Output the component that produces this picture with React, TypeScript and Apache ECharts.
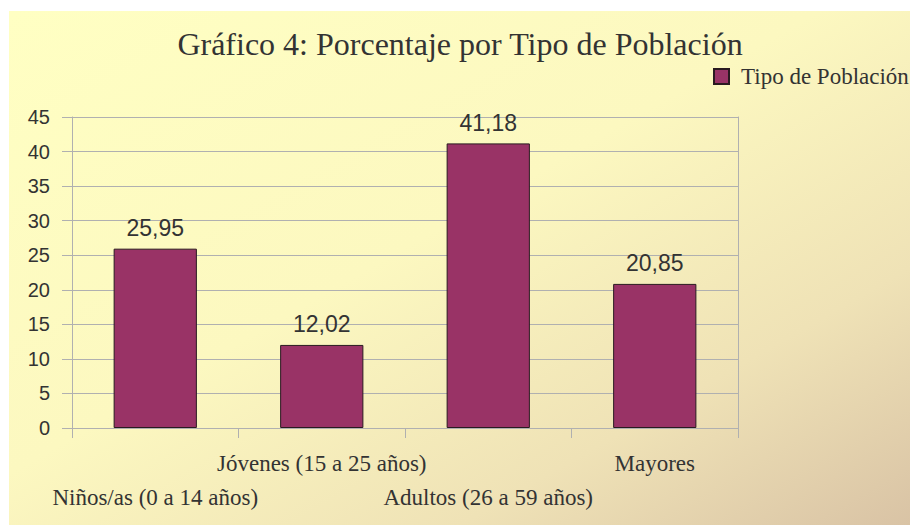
import React, { useEffect, useRef } from "react";
import * as echarts from "echarts";

const categories = [
  "Niños/as (0 a 14 años)",
  "Jóvenes (15 a 25 años)",
  "Adultos (26 a 59 años)",
  "Mayores",
];
const values = [25.95, 12.02, 41.18, 20.85];
const seriesName = "Tipo de Población";
const titleText = "Gráfico 4: Porcentaje por Tipo de Población";

export default function App() {
  const ref = useRef<HTMLDivElement>(null);
  useEffect(() => {
    document.body.style.margin = "0";
    const chart = echarts.init(ref.current!, null, { renderer: "svg" });
    const grey = "#b0b0b0";
    chart.setOption({
      animation: false,
      backgroundColor: "#ffffff",
      graphic: [
        {
          type: "rect",
          z: -10,
          silent: true,
          shape: { x: 9, y: 11, width: 901, height: 514 },
          style: {
            fill: {
              type: "linear",
              x: 0,
              y: 0,
              x2: 1,
              y2: 1,
              colorStops: [
                { offset: 0, color: "#ffffc3" },
                { offset: 0.45, color: "#fcf8c0" },
                { offset: 0.75, color: "#efe2b6" },
                { offset: 1, color: "#d9c3a5" },
              ],
            },
          },
        },
        {
          type: "text",
          x: 460,
          y: 44,
          silent: true,
          style: {
            text: titleText,
            textAlign: "center",
            textVerticalAlign: "middle",
            font: "normal 32px 'Liberation Serif'",
            fill: "#333333",
          },
        },
      ],
      legend: {
        left: 708,
        top: 60,
        itemWidth: 15,
        itemHeight: 15,
        icon: "rect",
        data: [seriesName],
        textStyle: {
          fontFamily: "Liberation Serif",
          fontSize: 23,
          color: "#333333",
          padding: [0, 0, 0, 7],
        },
      },
      grid: { left: 72, right: 172, top: 117, bottom: 99 },
      xAxis: {
        type: "category",
        data: categories,
        axisLine: { show: true, lineStyle: { color: grey } },
        axisTick: { show: true, length: 10, interval: 0, lineStyle: { color: grey } },
        axisLabel: {
          interval: 0,
          margin: 18,
          fontFamily: "Liberation Serif",
          fontSize: 23,
          lineHeight: 34,
          color: "#333333",
          formatter: (v: string, i: number) => (i % 2 === 0 ? "\n" + v : v),
        },
        splitLine: { show: false },
      },
      yAxis: [
        {
          type: "value",
          min: 0,
          max: 45,
          interval: 5,
          axisLine: { show: true, lineStyle: { color: grey } },
          axisTick: { show: true, length: 10, lineStyle: { color: grey } },
          axisLabel: {
            margin: 22,
            fontFamily: "Liberation Sans",
            fontSize: 20,
            color: "#333333",
          },
          splitLine: { show: true, lineStyle: { color: grey, width: 1 } },
        },
        {
          type: "value",
          min: 0,
          max: 45,
          interval: 5,
          position: "right",
          axisLine: { show: true, lineStyle: { color: grey } },
          axisTick: { show: false },
          axisLabel: { show: false },
          splitLine: { show: false },
        },
      ],
      series: [
        {
          name: seriesName,
          type: "bar",
          data: values,
          barWidth: "50%",
          itemStyle: { color: "#993366", borderColor: "#2a1a20", borderWidth: 1 },
          label: {
            show: true,
            position: "top",
            distance: 9,
            fontFamily: "Liberation Sans",
            fontSize: 23,
            color: "#333333",
            formatter: (p: any) => p.value.toFixed(2).replace(".", ","),
          },
        },
      ],
    });
    return () => chart.dispose();
  }, []);
  return (
    <div
      ref={ref}
      style={{ position: "absolute", left: 0, top: 0, width: 910, height: 527 }}
    />
  );
}
